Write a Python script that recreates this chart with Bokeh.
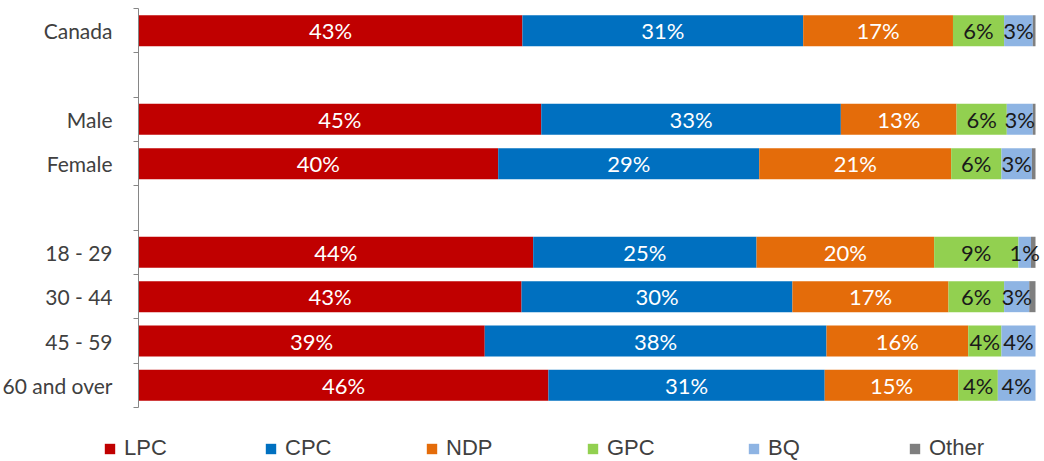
import numpy as np
from bokeh.plotting import figure
from bokeh.models import Range1d, FixedTicker, ColumnDataSource, Legend, LegendItem
from bokeh.core.properties import value
from bokeh.embed import file_html
from bokeh.resources import INLINE

# ---- data ----
rows = ["Canada", "", "Male", "Female", "", "18 - 29", "30 - 44", "45 - 59", "60 and over"]
groups = ["Canada", "Male", "Female", "18 - 29", "30 - 44", "45 - 59", "60 and over"]
parties = ["LPC", "CPC", "NDP", "GPC", "BQ", "Other"]
lpc = [42.8, 44.9, 40.1, 44.0, 42.7, 38.6, 45.7]
cpc = [31.3, 33.4, 29.1, 24.9, 30.2, 38.1, 30.8]
ndp = [16.7, 12.9, 21.4, 19.8, 17.4, 15.8, 14.9]
gpc = [5.7, 5.6, 5.6, 9.4, 6.2, 3.7, 4.4]
bq = [3.2, 2.9, 3.4, 1.4, 2.8, 3.8, 4.2]
other = [0.3, 0.3, 0.4, 0.5, 0.7, 0.0, 0.0]

colors = ["#C00000", "#0070C0", "#E46C0A", "#92D050", "#8EB4E3", "#7F7F7F"]
label_colors = ["#FFFFFF", "#FFFFFF", "#FFFFFF", "#1A1A1A", "#1A1A1A", None]

series = [lpc, cpc, ndp, gpc, bq, other]
FONT = "Lato"

centers = [rows.index(g) + 0.5 for g in groups]

# ---- layout (pixels) ----
W, H = 1044, 461
AX_LEFT, AX_RIGHT = 138, 1035      # where 0% and 100% fall
AX_TOP, AX_BOTTOM = 8, 407         # top and bottom of the category axis
xs = (AX_RIGHT - AX_LEFT) / 100.0
ys = (AX_BOTTOM - AX_TOP) / len(rows)
x_range = Range1d(-AX_LEFT / xs, 100 + (W - AX_RIGHT) / xs)
y_range = Range1d(len(rows) + (H - AX_BOTTOM) / ys, -AX_TOP / ys)

p = figure(width=W, height=H, output_backend="svg", toolbar_location=None,
           x_range=x_range, y_range=y_range,
           min_border_left=0, min_border_right=0, min_border_top=0, min_border_bottom=0)

p.xaxis.visible = False
p.xgrid.visible = False
p.ygrid.visible = False
p.outline_line_color = None

yax = p.yaxis[0]
yax.fixed_location = 0
yax.bounds = (0, len(rows))
yax.ticker = FixedTicker(ticks=centers, minor_ticks=list(range(len(rows) + 1)))
yax.major_label_overrides = {c: g for c, g in zip(centers, groups)}
yax.axis_line_color = "#868686"
yax.minor_tick_line_color = "#868686"
yax.minor_tick_out = 5
yax.minor_tick_in = 0
yax.major_tick_out = 0
yax.major_tick_in = 0
yax.major_label_text_font = FONT
yax.major_label_text_font_size = "21px"
yax.major_label_text_color = "#404040"
yax.major_label_standoff = 21

left = np.zeros(len(groups))
renderers = []
lx, ly, lt, lc = [], [], [], []
for name, vals, col, tcol in zip(parties, series, colors, label_colors):
    vals = np.array(vals, dtype=float)
    src = ColumnDataSource(dict(y=centers, left=left.copy(), right=left + vals))
    r = p.hbar(y="y", left="left", right="right", height=0.7, source=src,
               fill_color=col, line_color=None)
    renderers.append((name, r))
    if tcol is not None:
        for i, v in enumerate(vals):
            lx.append(left[i] + v / 2)
            ly.append(centers[i])
            lt.append(f"{v:.0f}%")
            lc.append(tcol)
    left = left + vals

lsrc = ColumnDataSource(dict(x=lx, y=ly, t=lt, c=lc))
p.text(x="x", y="y", text="t", text_color="c", source=lsrc,
       text_align="center", text_baseline="middle",
       text_font=value(FONT), text_font_size="22px")

legend = Legend(items=[LegendItem(label=n, renderers=[r]) for n, r in renderers],
                orientation="horizontal", location=(103, 0),
                glyph_width=13, glyph_height=13, label_standoff=8, label_width=125,
                spacing=15, padding=0, margin=0,
                label_text_font="Liberation Sans", label_text_font_size="22px",
                label_text_color="#404040",
                border_line_color=None, background_fill_alpha=0)
p.add_layout(legend, "center")

open("out.html", "w").write(file_html(p, INLINE))
